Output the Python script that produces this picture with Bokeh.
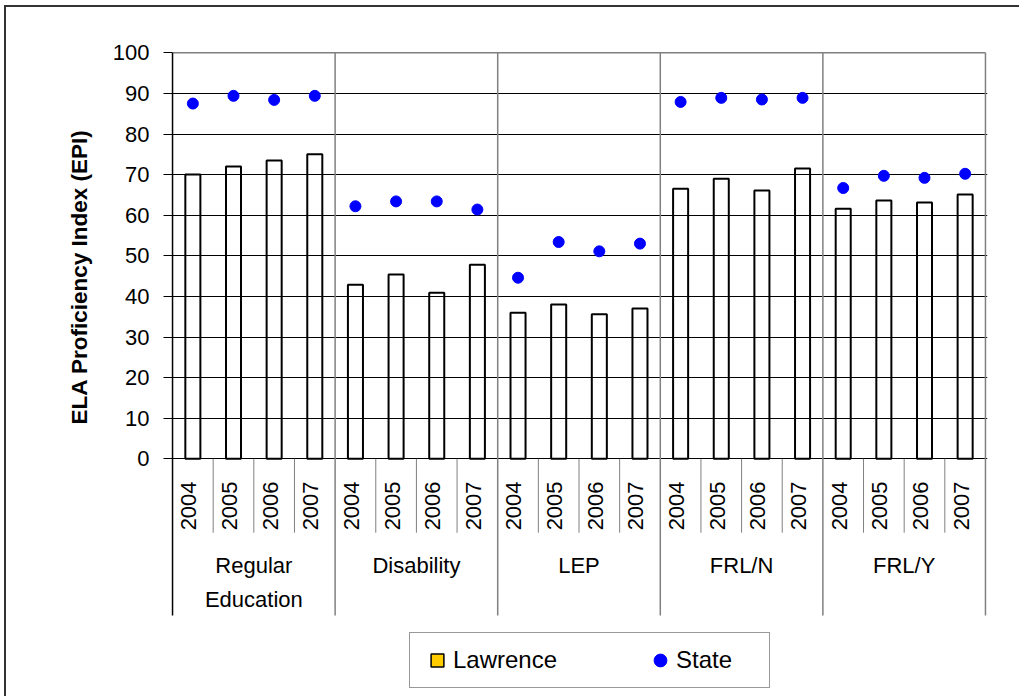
import math
from bokeh.plotting import figure
from bokeh.models import Range1d, FixedTicker, Legend, LegendItem, Title
from bokeh.core.properties import value
from bokeh.embed import file_html
from bokeh.resources import INLINE

# ---- data ----
groups = ["Regular\nEducation", "Disability", "LEP", "FRL/N", "FRL/Y"]
years = ["2004", "2005", "2006", "2007"]
lawrence = [70.0, 72.0, 73.5, 75.0,
            42.9, 45.4, 40.9, 47.8,
            36.0, 38.0, 35.6, 37.0,
            66.5, 69.0, 66.1, 71.5,
            61.6, 63.6, 63.1, 65.1]
state = [87.5, 89.4, 88.4, 89.4,
         62.2, 63.4, 63.4, 61.4,
         44.6, 53.4, 51.1, 53.0,
         87.9, 88.9, 88.5, 88.9,
         66.7, 69.7, 69.2, 70.2]
y_ticks = [0, 10, 20, 30, 40, 50, 60, 70, 80, 90, 100]
y_title = "ELA Proficiency Index (EPI)"
series_names = ["Lawrence", "State"]

# ---- layout helpers ----
FONT = "Liberation Sans"
n_years = len(years)
n = len(groups) * n_years
xs = [i + 0.5 for i in range(n)]
year_text = [years[i % n_years] for i in range(n)]
y_top = y_ticks[-1]
Y0, Y1 = -58.546, 100.567    # frame extends down to hold the category table and legend
TABLE_BOTTOM = -38.6
YEAR_SEP_BOTTOM = -18.2

p = figure(width=1013, height=689, output_backend="svg", toolbar_location=None,
           x_range=Range1d(-0.05, n + 0.05), y_range=Range1d(Y0, Y1),
           min_border_left=164, min_border_right=32, min_border_top=43,
           min_border_bottom=0, x_axis_location=None)
p.outline_line_color = None
p.background_fill_color = "white"
p.border_fill_color = "white"
p.styles = {"position": "relative", "left": "6px", "top": "7px",
            "outline": "2px solid #333333", "outline-offset": "0px"}

# y axis (line drawn as a segment so it stops at the table bottom)
p.yaxis.ticker = FixedTicker(ticks=y_ticks)
p.yaxis.axis_line_color = None
p.yaxis.major_tick_line_color = "black"
p.yaxis.major_tick_out = 7
p.yaxis.major_tick_in = 2
p.yaxis.minor_tick_line_color = None
p.yaxis.major_label_text_font = FONT
p.yaxis.major_label_text_font_size = "22px"
p.yaxis.major_label_text_color = "black"
p.yaxis.major_label_standoff = 14

# grid
p.ygrid.ticker = FixedTicker(ticks=y_ticks[:-1])
p.ygrid.grid_line_color = "black"
p.ygrid.grid_line_width = 1
p.xgrid.visible = False

# group boundaries (through plot and category table) and top border
gb = [g * n_years for g in range(1, len(groups) + 1)]
p.segment(x0=gb, y0=[TABLE_BOTTOM] * len(gb), x1=gb, y1=[y_top] * len(gb),
          line_color="#808080", line_width=1.5)
p.segment(x0=[0], y0=[y_top], x1=[n], y1=[y_top], line_color="#808080", line_width=1.5)
# left edge (value axis line + table edge)
p.segment(x0=[0], y0=[TABLE_BOTTOM], x1=[0], y1=[y_top], line_color="black", line_width=1.5)

# year separators in the category table
yb = [k for k in range(1, n) if k % n_years != 0]
p.segment(x0=yb, y0=[0] * len(yb), x1=yb, y1=[YEAR_SEP_BOTTOM] * len(yb),
          line_color="#808080", line_width=1)

# bars
bars = p.vbar(x=xs, top=lawrence, bottom=0, width=0.37, fill_color=None,
              line_color="black", line_width=2)
# legend proxy for Lawrence (gold square)
proxy = p.scatter(x=xs, y=lawrence, marker="square", fill_color="#FFCC00",
                  line_color="black", line_width=1.5, visible=False)
# state dots
dots = p.scatter(x=xs, y=state, marker="circle", size=11, fill_color="#0000FF",
                 line_color="#0000FF")

# category labels
p.text(x=[x - 0.1 for x in xs], y=[-11.6] * n, text=year_text, angle=math.pi / 2,
       text_align="center", text_baseline="middle", text_font=value(FONT),
       text_font_size="22px", text_color="black")
p.text(x=[g * n_years + n_years / 2 for g in range(len(groups))], y=[-23.3] * len(groups),
       text=groups, text_align="center", text_baseline="top", text_font=value(FONT),
       text_font_size="22px", text_color="black", text_line_height=1.36)

# y axis title (as a left title so it can be shifted along the axis)
p.add_layout(Title(text=y_title, align="left", offset=272, standoff=36, text_font=FONT,
                   text_font_size="22.5px", text_font_style="bold", text_color="black"),
             "left")

legend = Legend(items=[LegendItem(label=series_names[0], renderers=[proxy]),
                       LegendItem(label=series_names[1], renderers=[dots])],
                location=(239, 8), orientation="horizontal",
                glyph_width=32, glyph_height=32, label_standoff=0, label_width=82,
                spacing=87, padding=11, margin=0,
                border_line_color="#333333", border_line_width=1,
                background_fill_color="white", background_fill_alpha=1,
                label_text_font=FONT, label_text_font_size="24px", label_text_color="black",
                inactive_fill_alpha=0)
p.add_layout(legend, "center")

open("out.html", "w").write(file_html(p, INLINE))
